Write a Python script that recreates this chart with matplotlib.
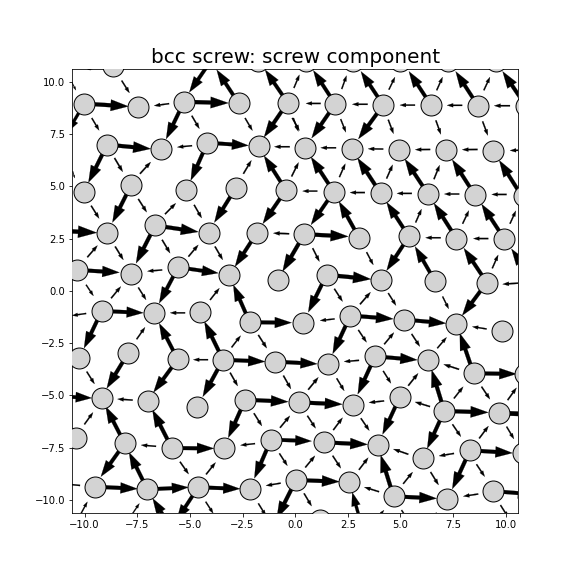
import numpy as np
import matplotlib
matplotlib.use('Agg')
import matplotlib.pyplot as plt

# atom positions (x, y)
atoms = np.array([
    (-8.63, 10.73), (-1.75, 11.0), (0.5, 11.0), (2.76, 11.0), (5.0, 11.0), (7.28, 11.0), (9.53, 11.0),
    (-10.02, 8.95), (-7.48, 8.77), (-5.28, 9.04), (-2.68, 8.96), (-0.36, 9.0), (1.90, 8.93), (4.18, 8.88),
    (6.45, 8.88), (8.68, 8.85), (10.97, 8.82),
    (-8.93, 6.99), (-6.39, 6.78), (-4.17, 7.08), (-1.74, 6.94), (0.47, 6.85), (2.68, 6.79), (4.91, 6.75),
    (7.16, 6.75), (9.39, 6.71),
    (-10.05, 4.72), (-7.79, 5.06), (-5.18, 4.80), (-2.81, 4.94), (-0.44, 4.82), (1.83, 4.74), (4.06, 4.66),
    (6.30, 4.64), (8.53, 4.59), (10.85, 4.55),
    (-8.92, 2.78), (-6.65, 3.13), (-4.11, 2.79), (-1.81, 2.79), (0.43, 2.71), (3.03, 2.55), (5.40, 2.60),
    (7.66, 2.50), (9.93, 2.49),
    (-10.37, 1.0), (-7.81, 0.83), (-5.56, 1.13), (-3.13, 0.77), (-0.83, 0.51), (1.49, 0.77), (4.06, 0.53),
    (6.65, 0.45), (9.10, 0.40),
    (-9.19, -0.96), (-6.70, -1.08), (-4.50, -1.0), (-2.16, -1.50), (0.36, -1.53), (2.62, -1.18), (5.16, -1.37),
    (7.63, -1.58), (9.83, -1.93),
    (-10.25, -3.22), (-7.92, -2.95), (-5.58, -3.27), (-3.43, -3.29), (-0.94, -3.38), (1.56, -3.49), (3.79, -3.13),
    (6.30, -3.32), (8.47, -3.94), (10.9, -3.99),
    (-9.19, -5.12), (-7.0, -5.25), (-4.68, -5.53), (-2.37, -5.2), (0.2, -5.32), (2.73, -5.44), (4.96, -5.09),
    (7.08, -5.74), (9.66, -5.84),
    (-10.40, -7.03), (-8.10, -7.29), (-5.86, -7.51), (-3.36, -7.53), (-1.15, -7.11), (1.38, -7.24), (3.95, -7.35),
    (6.05, -8.01), (8.30, -7.62), (10.8, -7.77),
    (-9.50, -9.36), (-7.02, -9.49), (-4.61, -9.39), (-2.15, -9.47), (0.04, -9.04), (2.57, -9.12), (4.67, -9.82),
    (7.21, -9.94), (9.39, -9.57), (1.18, -10.95),
])

# big arrows: tail x, tail y, tip x, tip y
big_arrows = np.array([
    (-10.02, 8.95, -7.92, 8.82), (-5.28, 9.04, -3.17, 8.98), (-2.68, 8.96, -3.73, 10.57), (-0.36, 9.0, -1.43, 10.57),
    (-3.97, 11.05, -5.03, 9.49), (-5.28, 9.04, -6.13, 7.26), (-8.93, 6.99, -6.86, 6.79), (-8.93, 6.99, -9.82, 5.18),
    (-4.17, 7.08, -2.22, 6.95), (-4.17, 7.08, -4.96, 5.28), (-0.36, 9.0, -1.48, 7.35), (-0.44, 4.82, -1.48, 6.46),
    (-7.79, 5.06, -8.68, 3.27), (-2.81, 4.94, -3.84, 3.27), (-0.44, 4.82, -1.54, 3.21), (-6.65, 3.13, -4.60, 2.82),
    (-11.64, 2.90, -9.42, 2.78), (-6.65, 3.13, -7.56, 1.32), (-10.02, 8.95, -10.82, 7.58), (-10.37, 1.0, -8.35, 0.88),
    (-5.56, 1.13, -3.65, 0.85), (-1.81, 2.79, -2.86, 1.16), (-5.56, 1.13, -6.46, -0.59), (-2.16, -1.5, -2.94, 0.29),
    (0.43, 2.71, -0.6, 0.93),
    (1.90, 8.93, 0.86, 10.54), (4.18, 8.88, 3.12, 10.49), (6.45, 8.88, 5.40, 10.49), (8.68, 8.85, 7.62, 10.49),
    (10.97, 8.82, 9.85, 10.49), (1.90, 8.93, 0.78, 7.30), (4.18, 8.88, 3.0, 7.26), (1.83, 4.74, 0.75, 6.40),
    (4.06, 4.66, 2.96, 6.35), (6.30, 4.64, 5.21, 6.30), (8.53, 4.59, 7.46, 6.27), (10.75, 4.55, 9.69, 6.24),
    (1.83, 4.74, 0.75, 3.16), (3.03, 2.55, 2.08, 4.27), (5.40, 2.60, 4.34, 4.24), (7.66, 2.50, 6.59, 4.19),
    (9.93, 2.49, 8.85, 4.15), (0.43, 2.71, 2.52, 2.60), (5.40, 2.60, 4.34, 0.97), (6.65, 0.45, 5.69, 2.12),
    (9.10, 0.40, 8.01, 2.04), (1.49, 0.77, 3.6, 0.56), (11.38, 0.37, 10.27, 2.01), (1.49, 0.77, 0.62, -1.02),
    (9.10, 0.40, 7.93, -1.18),
    (-9.19, -0.96, -7.21, -1.05), (-9.19, -0.96, -10.03, -2.74), (-7.92, -2.95, -8.95, -4.66), (-5.58, -3.27, -6.46, -1.55),
    (-5.58, -3.27, -6.73, -4.85), (-3.43, -3.29, -4.31, -1.47), (-3.43, -3.29, -4.39, -5.06), (-3.43, -3.29, -1.43, -3.38),
    (-2.16, -1.50, -0.17, -1.52), (-11.56, -5.02, -9.66, -5.12), (-8.10, -7.29, -9.0, -5.53), (-5.86, -7.51, -6.78, -5.69),
    (-5.86, -7.51, -3.86, -7.53), (-2.37, -5.2, -3.18, -7.02), (-2.37, -5.2, -0.33, -5.30), (-8.10, -7.29, -9.23, -8.88),
    (-7.02, -9.49, -7.89, -7.72), (-9.50, -9.36, -7.49, -9.46), (-7.02, -9.49, -5.07, -9.39), (-4.61, -9.39, -2.62, -9.46),
    (-1.15, -7.11, -1.94, -8.96), (-1.15, -7.11, 0.78, -7.18), (-0.94, -3.38, 1.05, -3.49), (0.04, -9.04, -0.88, -10.88),
    (-5.78, -11.51, -6.77, -9.92), (-4.61, -9.39, -5.63, -10.96),
    (2.62, -1.18, 4.66, -1.34), (5.16, -1.37, 7.16, -1.55), (2.62, -1.18, 1.78, -3.01), (3.79, -3.13, 5.80, -3.30),
    (3.79, -3.13, 2.97, -4.94), (8.47, -3.94, 7.82, -2.03), (8.47, -3.94, 10.51, -3.97), (0.17, -5.33, 2.24, -5.42),
    (4.96, -5.09, 4.15, -6.86), (7.08, -5.74, 6.48, -3.78), (7.08, -5.74, 9.17, -5.81), (7.08, -5.74, 6.27, -7.53),
    (9.66, -5.84, 12.1, -5.93), (1.38, -7.24, 3.44, -7.34), (8.30, -7.62, 10.32, -7.75), (8.30, -7.62, 7.46, -9.47),
    (0.04, -9.04, 2.10, -9.12), (4.67, -9.82, 4.06, -7.85), (4.67, -9.82, 6.72, -9.92), (9.39, -9.57, 11.38, -9.73),
    (3.15, -11.2, 2.71, -9.63),
])

# small arrows: tail x, tail y, tip x, tip y
small_arrows = np.array([
    (-8.24, 10.05, -7.87, 9.46), (-10.61, 9.97, -10.41, 9.59), (-5.99, 8.95, -6.70, 8.85), (-9.66, 8.26, -9.31, 7.67),
    (-4.91, 8.37, -4.55, 7.75), (-2.38, 8.26, -2.03, 7.66), (-0.14, 8.26, 0.20, 7.66), (-4.90, 6.94, -5.60, 6.87),
    (-0.26, 6.89, -0.99, 6.89), (-8.58, 6.35, -8.19, 5.69), (-7.37, 5.60, -6.86, 6.16), (-2.46, 5.60, -2.08, 6.24),
    (-0.17, 5.47, 0.16, 6.14), (-10.56, 5.71, -10.47, 5.39), (-9.69, 4.07, -9.31, 3.46), (-7.45, 4.39, -7.05, 3.76),
    (-4.80, 4.11, -4.44, 3.48), (-6.18, 3.67, -5.67, 4.19), (-0.29, 2.73, -1.04, 2.76), (-9.87, 1.61, -9.39, 2.17),
    (-8.55, 2.12, -8.16, 1.48), (-6.32, 2.44, -5.94, 1.80), (-5.07, 1.64, -4.60, 2.20), (-3.81, 2.12, -3.44, 1.48),
    (-6.32, 1.0, -7.02, 0.94), (-9.50, 10.65, -9.87, 10.57),
    (-0.06, 9.70, 0.20, 10.33), (2.21, 9.65, 2.44, 10.29), (4.45, 9.62, 4.74, 10.22), (6.72, 9.59, 7.0, 10.22),
    (8.96, 9.59, 9.25, 10.22), (1.21, 8.96, 0.51, 8.96), (3.44, 8.92, 2.71, 8.92), (5.69, 8.88, 4.97, 8.88),
    (7.93, 8.87, 7.21, 8.87), (10.2, 8.85, 9.45, 8.85), (-0.09, 8.26, 0.15, 7.62), (2.16, 8.21, 2.41, 7.58),
    (4.42, 8.18, 4.67, 7.51), (6.68, 8.15, 6.92, 7.48), (8.90, 8.10, 9.15, 7.43), (1.94, 6.84, 1.21, 6.84),
    (4.18, 6.78, 3.46, 6.79), (6.41, 6.76, 5.70, 6.75), (8.66, 6.76, 7.93, 6.75), (10.91, 6.73, 10.2, 6.71),
    (2.10, 5.44, 2.38, 6.08), (4.34, 5.37, 4.63, 6.03), (6.59, 5.34, 6.86, 6.01), (1.05, 4.77, 0.35, 4.77),
    (3.31, 4.70, 2.60, 4.70), (5.54, 4.66, 4.83, 4.66), (7.79, 4.63, 7.08, 4.63), (10.04, 4.61, 9.33, 4.61),
    (5.72, 3.27, 6.0, 3.91), (7.95, 3.21, 8.25, 3.84), (10.2, 3.21, 10.48, 3.83), (6.91, 2.54, 6.19, 2.54),
    (9.17, 2.50, 8.46, 2.50), (0.83, 2.04, 1.15, 1.40), (3.39, 1.85, 3.71, 1.24), (9.36, 1.08, 9.64, 1.72),
    (10.59, 0.37, 9.85, 0.32),
    (-9.93, 0.29, -9.58, -0.24), (-8.74, -0.35, -8.28, 0.21), (-7.45, 0.16, -7.08, -0.43), (-4.04, -0.43, -3.60, 0.13),
    (-9.93, -1.08, -10.6, -1.18), (-5.23, -1.05, -5.94, -1.05), (-7.53, -2.31, -7.13, -1.74), (-3.02, -2.70, -2.59, -2.14),
    (-1.75, -2.11, -1.35, -2.74), (-9.90, -3.86, -9.53, -4.45), (-4.14, -3.29, -4.84, -3.29), (-3.09, -3.91, -2.73, -4.55),
    (-0.56, -4.05, -0.20, -4.69), (-7.72, -5.22, -8.44, -5.17), (-10.01, -6.38, -9.60, -5.81), (-1.96, -5.85, -1.58, -6.46),
    (-0.72, -6.54, -0.25, -5.97), (-6.61, -7.43, -7.32, -7.37), (-1.91, -7.30, -2.60, -7.38), (-5.47, -8.17, -5.06, -8.76),
    (-4.23, -8.77, -3.78, -8.20), (-0.75, -7.77, -0.37, -8.36), (-10.22, -9.30, -10.93, -9.23), (-0.69, -9.19, -1.39, -9.31),
    (-10.17, -10.64, -9.87, -10.08), (-7.72, -10.64, -7.40, -10.16), (-4.25, -10.08, -3.89, -10.64), (-1.75, -10.16, -1.39, -10.75),
    (1.87, -1.34, 1.18, -1.42), (1.86, 0.10, 2.25, -0.51), (3.08, -0.64, 3.58, -0.06), (4.42, -0.11, 4.79, -0.70),
    (7.0, -0.27, 7.29, -0.86), (9.09, -1.82, 8.41, -1.71), (3.0, -1.87, 3.39, -2.46), (4.23, -2.55, 4.69, -1.99),
    (5.53, -2.06, 5.92, -2.66), (6.75, -2.74, 7.19, -2.22), (3.03, -3.32, 2.32, -3.38), (7.78, -3.75, 7.05, -3.51),
    (0.62, -4.72, 1.10, -4.13), (1.97, -4.18, 2.33, -4.78), (4.18, -3.83, 4.55, -4.42), (5.37, -4.53, 5.84, -3.94),
    (7.54, -5.14, 7.98, -4.58), (8.85, -4.58, 9.25, -5.18), (10.09, -5.22, 10.51, -4.63), (4.22, -5.26, 3.50, -5.34),
    (6.40, -5.53, 5.69, -5.31), (0.58, -5.97, 0.97, -6.57), (1.81, -6.65, 2.25, -6.06), (3.12, -6.09, 3.52, -6.68),
    (7.47, -6.38, 7.87, -6.97), (8.74, -7.05, 9.18, -6.46), (10.04, -6.49, 10.39, -7.08), (0.48, -8.44, 0.94, -7.88),
    (1.78, -7.88, 2.17, -8.48), (3.03, -8.55, 3.47, -7.97), (5.37, -7.81, 4.66, -7.56), (7.54, -7.77, 6.83, -7.89),
    (6.43, -8.66, 6.81, -9.28), (5.13, -9.22, 5.58, -8.66), (8.61, -8.29, 9.0, -8.88), (3.98, -9.60, 3.28, -9.38),
    (8.69, -9.71, 7.98, -9.82), (0.42, -9.68, 0.78, -10.29), (9.75, -10.24, 10.12, -10.83), (3.87, -10.88, 4.22, -10.48),
    (5.05, -10.48, 5.41, -11.03), (6.68, -10.61, 7.03, -11.2),
])

title = 'bcc screw: screw component'

fig, ax = plt.subplots(figsize=(8, 8), dpi=72)

# arrow thickness goes with its length
for x0, y0, x1, y1 in np.vstack([big_arrows, small_arrows]):
    u, v = x1 - x0, y1 - y0
    length = np.hypot(u, v)
    ax.arrow(x0, y0, u, v, width=0.09 * length, head_width=0.26 * length, head_length=0.4 * length,
             length_includes_head=True, fc='k', ec='k', lw=0.2, zorder=2)

ax.scatter(atoms[:, 0], atoms[:, 1], s=440, c='lightgray', edgecolors='k', linewidths=1, zorder=3)

ax.set_xlim(-10.6, 10.6)
ax.set_ylim(-10.6, 10.6)
ax.set_title(title, fontsize=20)

fig.savefig('out.png', dpi=72)
